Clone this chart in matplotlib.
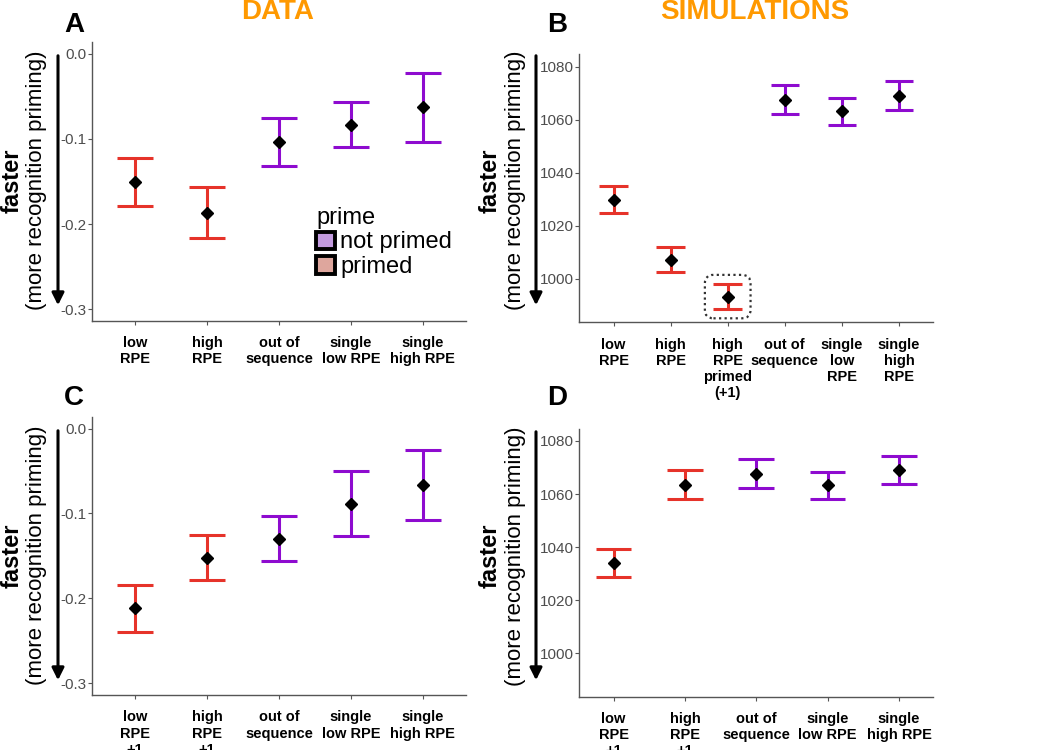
import matplotlib
matplotlib.use('Agg')
import matplotlib.pyplot as plt
from matplotlib.patches import Patch, FancyBboxPatch, FancyArrowPatch

plt.rcParams['font.family'] = ['Liberation Sans', 'DejaVu Sans']

RED = '#E6332A'
PURPLE = '#8E0BCF'
GREY = '#4D4D4D'

# panel A: data, current trial
a_labels = ['low\nRPE', 'high\nRPE', 'out of\nsequence', 'single\nlow RPE', 'single\nhigh RPE']
a_mean = [-0.150, -0.187, -0.103, -0.083, -0.063]
a_low = [-0.179, -0.217, -0.132, -0.109, -0.103]
a_high = [-0.122, -0.157, -0.075, -0.057, -0.022]
a_primed = [True, True, False, False, False]

# panel B: simulations, current trial
b_labels = ['low\nRPE', 'high\nRPE', 'high\nRPE\nprimed\n(+1)', 'out of\nsequence',
            'single\nlow\nRPE', 'single\nhigh\nRPE']
b_mean = [1029.8, 1007.2, 993.2, 1067.5, 1063.3, 1068.9]
b_low = [1024.9, 1002.3, 988.5, 1062.2, 1058.0, 1063.8]
b_high = [1035.0, 1012.1, 997.9, 1073.1, 1068.3, 1074.5]
b_primed = [True, True, True, False, False, False]

# panel C: data, next trial
c_labels = ['low\nRPE\n+1', 'high\nRPE\n+1', 'out of\nsequence', 'single\nlow RPE', 'single\nhigh RPE']
c_mean = [-0.212, -0.152, -0.130, -0.089, -0.066]
c_low = [-0.240, -0.178, -0.156, -0.127, -0.108]
c_high = [-0.184, -0.126, -0.103, -0.050, -0.025]
c_primed = [True, True, False, False, False]

# panel D: simulations, next trial
d_labels = ['low\nRPE\n+1', 'high\nRPE\n+1', 'out of\nsequence', 'single\nlow RPE', 'single\nhigh RPE']
d_mean = [1033.9, 1063.3, 1067.7, 1063.3, 1069.1]
d_low = [1028.7, 1058.0, 1062.3, 1058.1, 1063.7]
d_high = [1039.2, 1068.9, 1073.1, 1068.4, 1074.3]
d_primed = [True, True, False, False, False]


def draw_panel(ax, labels, mean, low, high, primed, yticks, ylim, xlim):
    x = list(range(1, len(labels) + 1))
    for i in range(len(x)):
        col = RED if primed[i] else PURPLE
        ax.vlines(x[i], low[i], high[i], colors=col, lw=2.2, zorder=2)
        ax.hlines([low[i], high[i]], x[i] - 0.25, x[i] + 0.25, colors=col, lw=2.2, zorder=2)
    ax.plot(x, mean, 'D', color='black', ms=6.5, zorder=3, ls='none')
    ax.set_xticks(x)
    ax.set_xticklabels(labels, fontsize=10.5, fontweight='bold', linespacing=1.2)
    ax.set_yticks(yticks)
    ax.set_xlim(*xlim)
    ax.set_ylim(*ylim)
    for s in ['top', 'right']:
        ax.spines[s].set_visible(False)
    for s in ['left', 'bottom']:
        ax.spines[s].set_color('#555555')
        ax.spines[s].set_linewidth(1.0)
    ax.tick_params(axis='y', colors='#555555', labelcolor=GREY, labelsize=11, length=3, pad=1)
    ax.tick_params(axis='x', colors='#555555', labelcolor='black', length=3, pad=8)


def ylab(fig, xpx, ypx_top, ypx_bot):
    yc = 750 - (ypx_top + ypx_bot) / 2
    fig.text(xpx / 1050, yc / 750, 'faster', rotation=90, fontsize=17,
             fontweight='bold', ha='center', va='center')
    fig.text((xpx + 25) / 1050, yc / 750, '(more recognition priming)', rotation=90,
             fontsize=16, ha='center', va='center')
    fig.add_artist(FancyArrowPatch(
        ((xpx + 46) / 1050, (750 - ypx_top) / 750), ((xpx + 46) / 1050, (750 - ypx_bot) / 750),
        transform=fig.transFigure, arrowstyle='-|>', mutation_scale=18, lw=2.2, color='black'))


fig = plt.figure(figsize=(10.5, 7.5), dpi=100)

axA = fig.add_axes([0.0876, 0.572, 0.3562, 0.372])
axB = fig.add_axes([0.5517, 0.5703, 0.3371, 0.3573])
axC = fig.add_axes([0.0876, 0.0733, 0.3562, 0.3711])
axD = fig.add_axes([0.5517, 0.0711, 0.3371, 0.3565])

data_ticks = [0.0, -0.1, -0.2, -0.3]
sim_ticks = [1000, 1020, 1040, 1060, 1080]

draw_panel(axA, a_labels, a_mean, a_low, a_high, a_primed, data_ticks, (-0.314, 0.014), (0.4, 5.6))
draw_panel(axB, b_labels, b_mean, b_low, b_high, b_primed, sim_ticks, (983.5, 1084.7), (0.4, 6.6))
draw_panel(axC, c_labels, c_mean, c_low, c_high, c_primed, data_ticks, (-0.314, 0.014), (0.4, 5.6))
draw_panel(axD, d_labels, d_mean, d_low, d_high, d_primed, sim_ticks, (983.6, 1084.4), (0.52, 5.48))
for ax in [axA, axC]:
    ax.set_yticklabels(['0.0', '-0.1', '-0.2', '-0.3'])

# dotted box around the primed high RPE simulation
k = 2
box = FancyBboxPatch((k + 1 - 0.4, b_low[k] - 3.5), 0.8, b_high[k] - b_low[k] + 7,
                     boxstyle='round,pad=0,rounding_size=0.15', mutation_aspect=21.5,
                     fill=False, ec='#333333', lw=1.6, ls=(0, (1, 1.5)), clip_on=False, zorder=4)
axB.add_patch(box)

# legend
handles = [Patch(facecolor='#C39BDF', edgecolor='black', lw=2.8, label='not primed'),
           Patch(facecolor='#DEA69D', edgecolor='black', lw=2.8, label='primed')]
leg = axA.legend(handles=handles, title='prime', loc='upper left', bbox_to_anchor=(0.6, 0.41),
                 frameon=False, fontsize=17, title_fontsize=17, handlelength=0.8,
                 handleheight=0.75, handletextpad=0.2, labelspacing=0.12, borderpad=0,
                 borderaxespad=0)
leg._legend_box.align = 'left'

# y labels with arrows
for xpx, top, bot in [(12, 53, 308), (490, 53, 308), (12, 428, 683), (490, 429, 683)]:
    ylab(fig, xpx, top, bot)

# titles and panel letters
fig.text(278 / 1050, 1 - 12 / 750, 'DATA', color='#FF9900', fontsize=20, fontweight='bold',
         ha='center', va='center')
fig.text(755 / 1050, 1 - 12 / 750, 'SIMULATIONS', color='#FF9900', fontsize=20, fontweight='bold',
         ha='center', va='center')
for letter, xpx, ypx in [('A', 74, 25), ('B', 557, 25), ('C', 74, 398), ('D', 557, 398)]:
    fig.text(xpx / 1050, 1 - ypx / 750, letter, fontsize=20, fontweight='bold',
             ha='center', va='center')

fig.savefig('out.png', dpi=100)
